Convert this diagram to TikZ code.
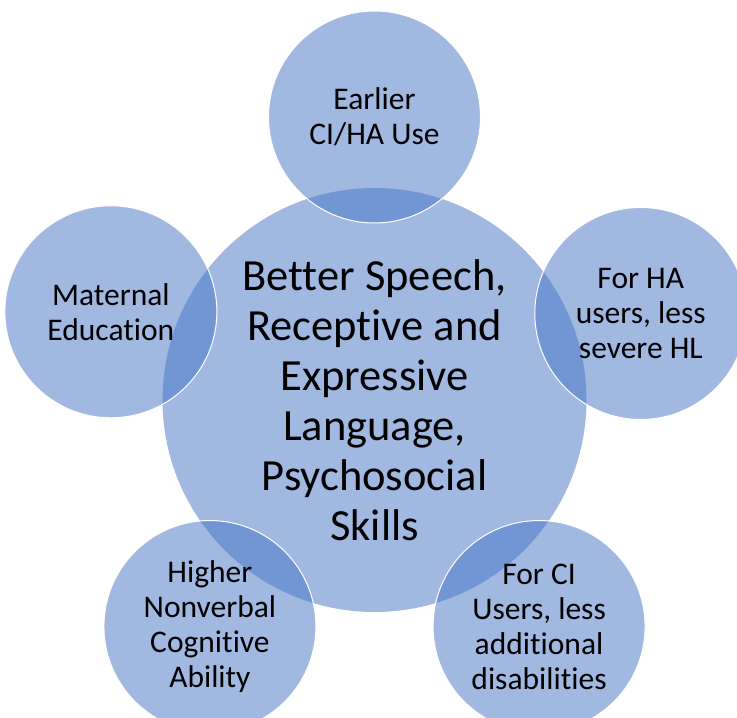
\documentclass[tikz,border=0pt]{standalone}
\usepackage{fontspec}
\setmainfont{Carlito}[Ligatures=CommonOff]
\definecolor{ringblue}{HTML}{4472C4}
\tikzset{
  hub/.style={circle, fill=ringblue, fill opacity=0.5, text opacity=1,
    minimum size=424pt, inner sep=0pt, align=center,
    font=\fontsize{44.5}{50}\selectfont},
  spoke/.style={circle, fill=ringblue, fill opacity=0.5, text opacity=1,
    draw=white, draw opacity=1, line width=1pt,
    minimum size=212pt, inner sep=0pt, align=center,
    font=\fontsize{31.5}{35}\selectfont}
}
\begin{document}
\begin{tikzpicture}[x=1pt,y=1pt]
  \useasboundingbox (-374.5,-318) rectangle (362.5,400);
  \draw
    (0:0) node[hub] (hub){Better Speech,\\Receptive and\\Expressive\\Language,\\Psychosocial\\Skills}
    (90:283) node[spoke] (early){Earlier\\CI/HA Use}
    (18:280) node[spoke] (ha){For HA\\users, less\\severe HL}
    (306:280) node[spoke] (ci){For CI\\Users, less\\additional\\disabilities}
    (234:280) node[spoke] (cog){Higher\\Nonverbal\\Cognitive\\Ability}
    (161.5:278) node[spoke] (mat){Maternal\\Education};
\end{tikzpicture}
\end{document}
